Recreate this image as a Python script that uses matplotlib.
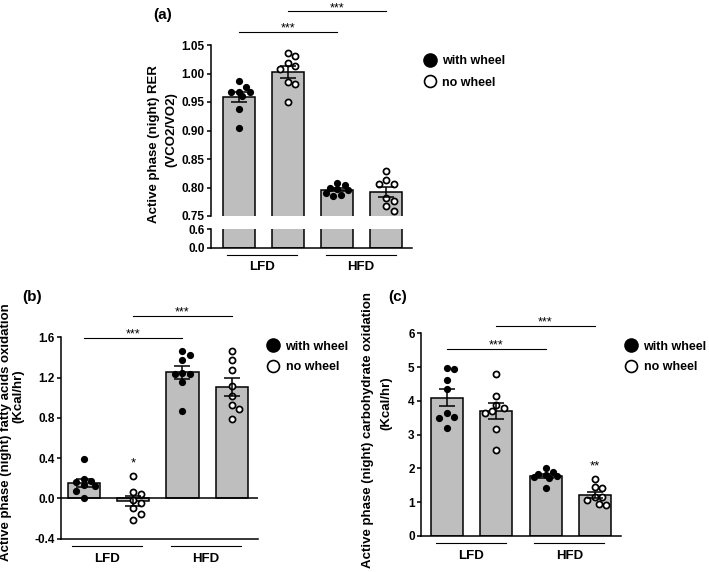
import numpy as np
import matplotlib
matplotlib.use("Agg")
import matplotlib.pyplot as plt
from matplotlib.lines import Line2D
from matplotlib.transforms import blended_transform_factory, offset_copy

# ---------------- data ----------------
groups = ["LFD", "HFD"]
series = ["with wheel", "no wheel"]

# (a) Active phase (night) RER (VCO2/VO2)
a_lfd_wheel = [0.986, 0.976, 0.968, 0.967, 0.967, 0.960, 0.937, 0.905]
a_lfd_nowheel = [1.036, 1.031, 1.018, 1.013, 1.008, 0.985, 0.981, 0.950]
a_hfd_wheel = [0.808, 0.805, 0.800, 0.798, 0.796, 0.790, 0.786, 0.785]
a_hfd_nowheel = [0.829, 0.814, 0.807, 0.807, 0.782, 0.777, 0.768, 0.759]

# (b) fatty acids oxidation (Kcal/hr)
b_lfd_wheel = [0.387, 0.19, 0.17, 0.16, 0.13, 0.12, 0.075, 0.0]
b_lfd_nowheel = [0.225, 0.066, 0.04, -0.02, -0.05, -0.10, -0.15, -0.215]
b_hfd_wheel = [1.463, 1.423, 1.373, 1.25, 1.24, 1.234, 1.158, 0.87]
b_hfd_nowheel = [1.46, 1.37, 1.28, 1.12, 1.02, 0.93, 0.89, 0.79]

# (c) carbohydrate oxidation (Kcal/hr)
c_lfd_wheel = [4.96, 4.94, 4.62, 4.34, 3.65, 3.53, 3.50, 3.19]
c_lfd_nowheel = [4.79, 4.15, 3.88, 3.70, 3.78, 3.65, 3.16, 2.54]
c_hfd_wheel = [2.00, 1.90, 1.85, 1.80, 1.78, 1.75, 1.71, 1.41]
c_hfd_nowheel = [1.69, 1.45, 1.41, 1.15, 1.14, 1.07, 0.94, 0.92]

a_ticks_top = [0.75, 0.80, 0.85, 0.90, 0.95, 1.00, 1.05]
a_ticks_bot = [0.0, 0.6]
b_ticks = [-0.4, 0.0, 0.4, 0.8, 1.2, 1.6]
c_ticks = [0, 1, 2, 3, 4, 5, 6]

# ---------------- style ----------------
plt.rcParams["font.family"] = ["Liberation Sans", "DejaVu Sans"]
plt.rcParams["font.weight"] = "bold"

W, H = 709, 572
fig = plt.figure(figsize=(W / 100, H / 100), dpi=100)
GREY = "#bebebe"
LW = 1.1
BAR_W = 0.65
PT = 100 / 72.0  # px per point


def axbox(x0, y0, x1, y1):
    return fig.add_axes([x0 / W, 1 - y1 / H, (x1 - x0) / W, (y1 - y0) / H])


def style(ax, ticks, fmt, bottom=True):
    for s in ["top", "right"]:
        ax.spines[s].set_visible(False)
    ax.spines["left"].set_linewidth(LW)
    ax.spines["bottom"].set_linewidth(LW)
    if not bottom:
        ax.spines["bottom"].set_visible(False)
    ax.set_yticks(ticks)
    ax.set_yticklabels([fmt.format(t) for t in ticks])
    ax.tick_params(axis="y", length=3, width=LW, labelsize=8.5, pad=1.5)
    ax.tick_params(axis="x", bottom=False, labelbottom=False)
    ax.set_facecolor("none")


def swarm_x(ax, xc, vals, d_px, max_off=13.0):
    vals = np.asarray(vals, float)
    disp = ax.transData.transform(np.column_stack([np.full(len(vals), xc), vals]))
    x0 = disp[0, 0]
    ys = disp[:, 1]
    order = np.argsort(-vals)
    placed = []
    offs = np.zeros(len(vals))
    cands = [0.0]
    k = 1
    while k * d_px / 2 <= max_off:
        cands += [k * d_px / 2, -k * d_px / 2]
        k += 1
    for i in order:
        best, best_d = 0.0, -1.0
        for c in cands:
            md = min([np.hypot(c - px, ys[i] - py) for px, py in placed] or [1e9])
            if md >= d_px * 0.95:
                best = c
                break
            if md > best_d:
                best, best_d = c, md
        offs[i] = best
        placed.append((best, ys[i]))
    inv = ax.transData.inverted()
    return np.array([inv.transform((x0 + offs[i], ys[i]))[0] for i in range(len(vals))])


def draw_points(ax, data):
    pos = np.arange(len(data))
    for p, vals in zip(pos, data):
        filled = p % 2 == 0
        xs = swarm_x(ax, p, vals, 7.5)
        ax.scatter(xs, vals, s=(5.2 if filled else 4.4) ** 2, marker="o",
                   facecolors="black" if filled else "white", edgecolors="black",
                   linewidths=0 if filled else 1.25, zorder=3, clip_on=False)


def draw_bars(ax, data, err=True):
    pos = np.arange(len(data))
    means = [np.mean(v) for v in data]
    sems = [np.std(v, ddof=1) / np.sqrt(len(v)) for v in data]
    ax.bar(pos, means, width=BAR_W, color=GREY, edgecolor="black", linewidth=LW, zorder=1)
    if err:
        ax.errorbar(pos, means, yerr=sems, fmt="none", ecolor="black", elinewidth=LW,
                    capsize=6, capthick=LW, zorder=4)


def group_labels(ax):
    trans = blended_transform_factory(ax.transData, ax.transAxes)
    ltrans = offset_copy(trans, fig=fig, y=-7, units="dots")
    for i, g in enumerate(groups):
        c = 0.48 + 2 * i
        ax.plot([c - 0.71, c + 0.71], [0, 0], color="black", lw=0.8, transform=ltrans, clip_on=False)
        ax.annotate(g, xy=(c, 0), xycoords=trans, xytext=(0, -20 / PT), textcoords="offset points",
                    ha="center", va="center", fontsize=9.5)


def sig(ax, x0, x1, y, text="***"):
    ax.plot([x0, x1], [y, y], color="black", lw=0.8, clip_on=False, zorder=5)
    ax.annotate(text, xy=((x0 + x1) / 2, y), xytext=(0, 0.3), textcoords="offset points",
                ha="center", va="baseline", fontsize=9, fontweight="normal", annotation_clip=False)


def star(ax, x, y, text):
    ax.annotate(text, xy=(x, y), ha="center", va="baseline", fontsize=9.5, fontweight="normal",
                annotation_clip=False)


def legend(ax, mx, my):
    handles = [Line2D([], [], marker="o", ls="none", mfc="black", mec="black", ms=9.5),
               Line2D([], [], marker="o", ls="none", mfc="white", mec="black", ms=8.6, mew=1.2)]
    ax.legend(handles, series, loc="upper left", bbox_to_anchor=((mx - 6.25) / W, 1 - (my - 4.5) / H),
              bbox_transform=fig.transFigure, frameon=False, handlelength=1.0, handletextpad=0.5,
              labelspacing=0.72, borderpad=0, borderaxespad=0, fontsize=9)


# ---------------- panel (a) ----------------
a_data = [a_lfd_wheel, a_lfd_nowheel, a_hfd_wheel, a_hfd_nowheel]
at = axbox(211, 45, 412, 216)
ab = axbox(211, 229, 412, 247.5)
for ax in (at, ab):
    ax.set_xlim(-0.56, 3.52)
at.set_ylim(0.75, 1.05)
ab.set_ylim(0.0, 0.6)
style(at, a_ticks_top, "{:.2f}", bottom=False)
style(ab, a_ticks_bot, "{:.1f}")
draw_bars(at, a_data)
draw_bars(ab, a_data, err=False)
draw_points(at, a_data)
group_labels(ab)
sig(at, 0, 2, 1.073)
sig(at, 1, 3, 1.109)
legend(at, 430, 60)
fig.text(154.5 / W, 1 - 144 / H, "Active phase (night) RER", rotation=90, ha="center", va="center", fontsize=9.5)
fig.text(171 / W, 1 - 130 / H, "(VCO2/VO2)", rotation=90, ha="center", va="center", fontsize=9.5)
fig.text(163 / W, 1 - 15 / H, "(a)", ha="center", va="center", fontsize=11)

# ---------------- panel (b) ----------------
b_data = [b_lfd_wheel, b_lfd_nowheel, b_hfd_wheel, b_hfd_nowheel]
bx = axbox(61, 337.3, 258, 538.7)
bx.set_xlim(-0.46, 3.53)
bx.set_ylim(-0.4, 1.6)
style(bx, b_ticks, "{:.1f}")
bx.axhline(0, color="black", lw=LW, zorder=2)
draw_bars(bx, b_data)
draw_points(bx, b_data)
group_labels(bx)
sig(bx, 0, 2, 1.59)
sig(bx, 1, 3, 1.815)
star(bx, 1, 0.316, "*")
legend(bx, 273, 345)
fig.text(6 / W, 1 - 432 / H, "Active phase (night) fatty acids oxidation", rotation=90, ha="center", va="center", fontsize=9.5)
fig.text(18.5 / W, 1 - 396 / H, "(Kcal/hr)", rotation=90, ha="center", va="center", fontsize=9.5)
fig.text(32 / W, 1 - 297 / H, "(b)", ha="center", va="center", fontsize=11)

# ---------------- panel (c) ----------------
c_data = [c_lfd_wheel, c_lfd_nowheel, c_hfd_wheel, c_hfd_nowheel]
cx = axbox(421, 333.3, 621, 536)
cx.set_xlim(-0.525, 3.53)
cx.set_ylim(0, 6)
style(cx, c_ticks, "{:d}")
draw_bars(cx, c_data)
draw_points(cx, c_data)
group_labels(cx)
sig(cx, 0, 2, 5.53)
sig(cx, 1, 3, 6.21)
star(cx, 3, 1.97, "**")
legend(cx, 631, 345)
fig.text(368 / W, 1 - 430 / H, "Active phase (night) carbohydrate oxidation", rotation=90, ha="center", va="center", fontsize=9.5)
fig.text(386.5 / W, 1 - 403 / H, "(Kcal/hr)", rotation=90, ha="center", va="center", fontsize=9.5)
fig.text(398 / W, 1 - 297 / H, "(c)", ha="center", va="center", fontsize=11)

fig.savefig("out.png", dpi=100)
